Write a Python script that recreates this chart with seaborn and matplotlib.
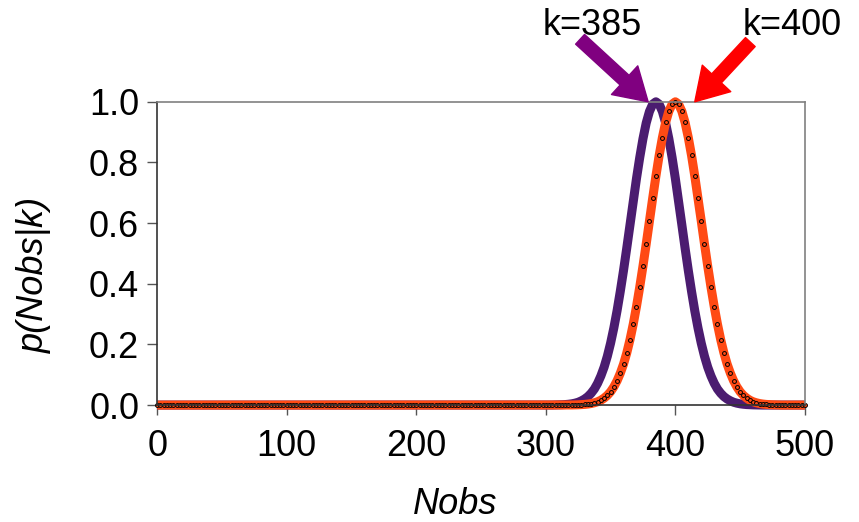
import numpy as np
import pandas as pd
import matplotlib
matplotlib.use("Agg")
import matplotlib.pyplot as plt
import seaborn as sns

#DATA---------------------------------
step = 2.5
nobs = np.arange(0, 500 + step, step)

# k=400 curve, nonzero part from Nobs=320 to 480
k400_start = 320
k400_vals = [0.0003, 0.0005, 0.0009, 0.0014, 0.0022, 0.0034, 0.0051, 0.0076,
             0.011, 0.016, 0.023, 0.032, 0.044, 0.060, 0.080, 0.105,
             0.135, 0.172, 0.216, 0.267, 0.325, 0.389, 0.458, 0.531,
             0.607, 0.682, 0.755, 0.823, 0.882, 0.932, 0.969, 0.992,
             1.000,
             0.992, 0.969, 0.932, 0.882, 0.823, 0.755, 0.682, 0.607,
             0.531, 0.458, 0.389, 0.325, 0.267, 0.216, 0.172, 0.135,
             0.105, 0.080, 0.060, 0.044, 0.032, 0.023, 0.016, 0.011,
             0.0076, 0.0051, 0.0034, 0.0022, 0.0014, 0.0009, 0.0005, 0.0003]

# k=385 curve, nonzero part from Nobs=305 to 465
k385_start = 305
k385_vals = [0.0002, 0.0004, 0.0007, 0.0011, 0.0017, 0.0027, 0.0041, 0.0063,
             0.0093, 0.014, 0.020, 0.028, 0.039, 0.053, 0.072, 0.096,
             0.125, 0.161, 0.204, 0.254, 0.311, 0.375, 0.444, 0.518,
             0.595, 0.672, 0.747, 0.816, 0.878, 0.930, 0.968, 0.992,
             1.000,
             0.992, 0.968, 0.930, 0.878, 0.816, 0.747, 0.672, 0.595,
             0.518, 0.444, 0.375, 0.311, 0.254, 0.204, 0.161, 0.125,
             0.096, 0.072, 0.053, 0.039, 0.028, 0.020, 0.014, 0.0093,
             0.0063, 0.0041, 0.0027, 0.0017, 0.0011, 0.0007, 0.0004, 0.0002]

x_ticks = [0, 100, 200, 300, 400, 500]
y_ticks = [0.0, 0.2, 0.4, 0.6, 0.8, 1.0]


def full_curve(start, vals):
    # zero everywhere except the part
    y = np.zeros(len(nobs))
    i0 = int(round(start / step))
    y[i0:i0 + len(vals)] = vals
    return y


df = pd.DataFrame({'nobs': nobs,
                   'k385': full_curve(k385_start, k385_vals),
                   'k400': full_curve(k400_start, k400_vals)})

#PLOT-----------
sns.set_style('ticks')
plt.rcParams['font.family'] = ['Liberation Sans', 'DejaVu Sans']
plt.rcParams['text.color'] = 'black'
plt.rcParams['axes.labelcolor'] = 'black'
plt.rcParams['xtick.color'] = 'black'
plt.rcParams['ytick.color'] = 'black'

fig = plt.figure(figsize=(8.59, 5.22), dpi=100)
ax = fig.add_axes([0.183, 0.224, 0.754, 0.581])

purple = '#4B1C70'
orange = '#FF4A14'

sns.lineplot(data=df, x='nobs', y='k385', ax=ax, color=purple, linewidth=6.5,
             clip_on=False, solid_capstyle='butt')
sns.lineplot(data=df, x='nobs', y='k400', ax=ax, color=orange, linewidth=6.5,
             clip_on=False, solid_capstyle='butt',
             marker='o', markersize=2.8, markerfacecolor=orange,
             markeredgecolor='black', markeredgewidth=0.7)

ax.set_xlim(0, 500)
ax.set_ylim(0, 1.0)
ax.set_xticks(x_ticks)
ax.set_yticks(y_ticks)
ax.set_yticklabels([f'{v:.1f}' for v in y_ticks])
ax.tick_params(axis='both', labelsize=26, length=7, width=1, direction='out',
               color='#555555', labelcolor='black')
ax.tick_params(axis='x', pad=10)
ax.tick_params(axis='y', pad=6)

ax.set_xlabel('Nobs', fontsize=26, style='italic', color='black')
ax.set_ylabel('p(Nobs|k)', fontsize=26, style='italic', color='black')
ax.xaxis.set_label_coords(0.46, -0.27)
ax.yaxis.set_label_coords(-0.162, 0.43)

for side in ['top', 'right']:
    ax.spines[side].set_color('#808080')
    ax.spines[side].set_linewidth(1.2)
for side in ['left', 'bottom']:
    ax.spines[side].set_color('#333333')
    ax.spines[side].set_linewidth(1.2)

# arrows pointing at the two peaks
ax.annotate('', xy=(379, 1.0), xytext=(-49, 45), textcoords='offset points',
            annotation_clip=False,
            arrowprops=dict(facecolor='#800080', edgecolor='#800080',
                            width=9.5, headwidth=28, headlength=23, shrink=0))
ax.annotate('', xy=(415, 1.0), xytext=(40, 43), textcoords='offset points',
            annotation_clip=False,
            arrowprops=dict(facecolor='red', edgecolor='red',
                            width=9.5, headwidth=28, headlength=23, shrink=0))
ax.text(336, 1.25, 'k=385', fontsize=26, ha='center', va='center',
        color='black', clip_on=False)
ax.text(490, 1.25, 'k=400', fontsize=26, ha='center', va='center',
        color='black', clip_on=False)

plt.savefig('out.png', dpi=100)
